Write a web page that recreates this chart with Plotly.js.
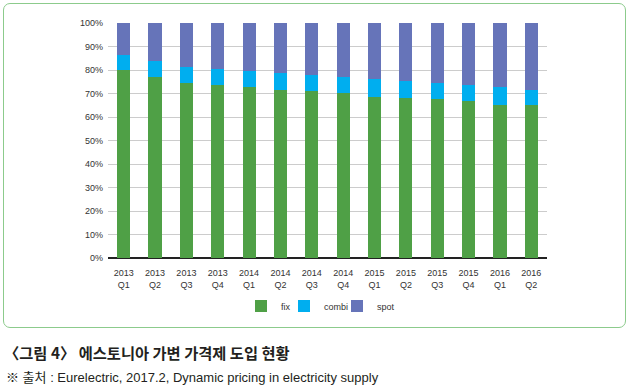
<!DOCTYPE html>
<html>
<head>
<meta charset="utf-8">
<script src="https://cdn.plot.ly/plotly-3.0.1.min.js"></script>
<style>
html,body{margin:0;padding:0;background:#fff;}
#wrap{position:relative;width:630px;height:390px;overflow:hidden;}
#box{position:absolute;left:3px;top:3px;width:621px;height:323px;border:1px solid #8ccb8c;border-radius:7px;}
#chart{position:absolute;left:0;top:0;width:630px;height:390px;}
</style>
</head>
<body>
<div id="wrap"><div id="box"></div><div id="chart"></div></div>
<script>
const categories = ["2013<br>Q1","2013<br>Q2","2013<br>Q3","2013<br>Q4","2014<br>Q1","2014<br>Q2","2014<br>Q3","2014<br>Q4","2015<br>Q1","2015<br>Q2","2015<br>Q3","2015<br>Q4","2016<br>Q1","2016<br>Q2"];
const fix   = [80, 77, 74.6, 73.7, 72.6, 71.6, 70.9, 70.2, 68.6, 68.3, 67.5, 66.6, 65.2, 64.9];
const combi = [6.5, 7, 6.8, 6.7, 7.1, 7.3, 6.8, 6.9, 7.7, 7.1, 6.8, 6.9, 7.4, 6.8];
const spot  = [13.5, 16, 18.6, 19.6, 20.3, 21.1, 22.3, 22.9, 23.7, 24.6, 25.7, 26.5, 27.4, 28.3];
const yTicks = [0,10,20,30,40,50,60,70,80,90,100];
const captionTitle = "〈그림 4〉 에스토니아 가변 가격제 도입 현황";
const captionSource = "※ 출처 : Eurelectric, 2017.2, Dynamic pricing in electricity supply";

const fontLatin = "Liberation Sans, Arial, sans-serif";
const fontKr = "Noto Sans CJK KR, sans-serif";
const fontMixed = "Liberation Sans, Noto Sans CJK KR, sans-serif";

const traces = [
  {type:'bar', name:'fix', x:categories, y:fix, marker:{color:'#4fa046'}, legend:'legend'},
  {type:'bar', name:'combi', x:categories, y:combi, marker:{color:'#00aeef'}, legend:'legend2'},
  {type:'bar', name:'spot', x:categories, y:spot, marker:{color:'#6674b9'}, legend:'legend3'}
];

const W = 630, H = 390, L = 108, R = 83, T = 23, B = 132;
const pw = W - L - R, ph = H - T - B;
const px = v => (v - L) / pw;
const py = v => (H - B - v) / ph;

const legFont = {family: fontLatin, size: 9, color: '#333'};
const legBase = (xpx) => ({orientation: 'h', x: px(xpx), y: py(306), xanchor: 'left', yanchor: 'middle',
  font: legFont, itemwidth: 30, bgcolor: 'rgba(0,0,0,0)', borderwidth: 0});

const layout = {
  width: W, height: H,
  margin: {l: L, r: R, t: T, b: B, pad: 0},
  paper_bgcolor: 'rgba(0,0,0,0)',
  plot_bgcolor: 'rgba(0,0,0,0)',
  barmode: 'stack',
  bargap: 0.58,
  showlegend: true,
  legend: legBase(241),
  legend2: legBase(284),
  legend3: legBase(337),
  xaxis: {type: 'category', tickfont: {family: fontLatin, size: 9, color: '#333'},
          showgrid: false, zeroline: false, showline: false, ticks: '', tickangle: 0,
          ticklabelstandoff: 8},
  yaxis: {range: [0, 100], tickvals: yTicks, ticktext: yTicks.map(v => v + '%'),
          tickfont: {family: fontLatin, size: 9, color: '#333'},
          showgrid: true, gridcolor: '#cccccc', gridwidth: 1,
          zeroline: true, zerolinecolor: '#222', zerolinewidth: 1.2,
          showline: false, ticks: '', ticklabelstandoff: 4},
  annotations: [
    {xref: 'paper', yref: 'paper', x: px(2), y: py(352), xanchor: 'left', yanchor: 'middle',
     text: '<b>' + captionTitle + '</b>', showarrow: false,
     font: {family: fontKr, size: 15.3, color: '#231f20'}},
    {xref: 'paper', yref: 'paper', x: px(4), y: py(378), xanchor: 'left', yanchor: 'middle',
     text: captionSource, showarrow: false,
     font: {family: fontMixed, size: 13, color: '#231f20'}}
  ]
};

Plotly.newPlot('chart', traces, layout, {displayModeBar: false, staticPlot: true});
</script>
</body>
</html>
